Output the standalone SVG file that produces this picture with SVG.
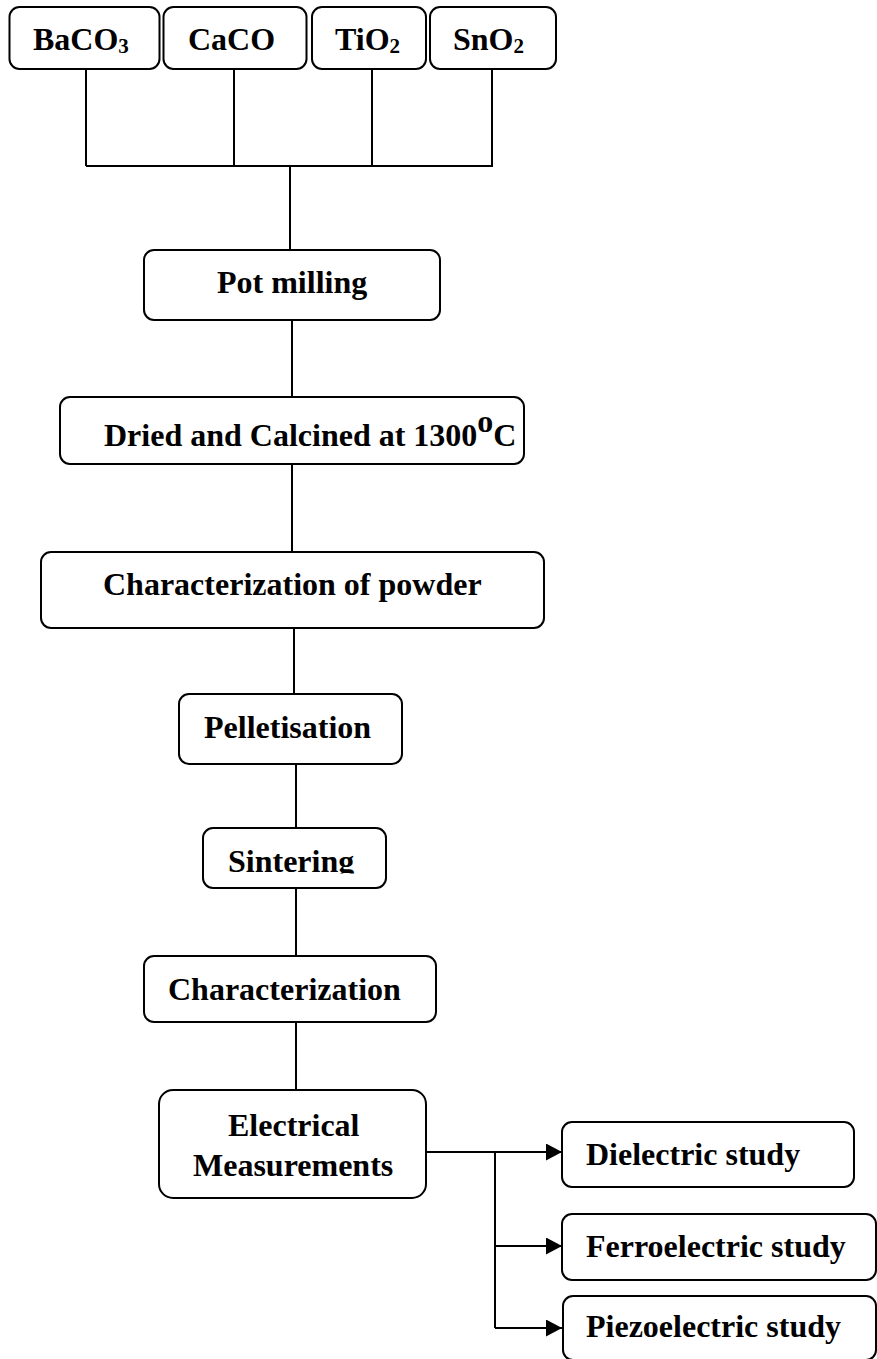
<svg xmlns="http://www.w3.org/2000/svg" width="877" height="1359" viewBox="0 0 877 1359">
<style>
.box{fill:#fff;stroke:#000;stroke-width:2}
.t{font-family:"Liberation Serif","Times New Roman",serif;font-weight:bold;font-size:32px;fill:#000}
.ln{stroke:#000;stroke-width:2;fill:none}
</style>
<defs>
<marker id="arr" viewBox="0 0 16 17" markerWidth="16" markerHeight="17" refX="16" refY="8.5" orient="auto" markerUnits="userSpaceOnUse">
<path d="M0,0 L16,8.5 L0,17 Z" fill="#000"/>
</marker>
<clipPath id="clipSint"><rect x="200" y="820" width="200" height="53.5"/></clipPath>
</defs>
<rect width="877" height="1359" fill="#fff"/>
<g id="connectors">
<path class="ln" d="M86,69 V166 M234,69 V166 M372,69 V166 M492,69 V166 M86,166 H493 M290,166 V250"/>
<path class="ln" d="M292,320 V397"/>
<path class="ln" d="M292,464 V552"/>
<path class="ln" d="M294,628 V701"/>
<path class="ln" d="M296,764 V828"/>
<path class="ln" d="M296,888 V956"/>
<path class="ln" d="M296,1022 V1090"/>
<path class="ln" d="M426,1152 H562" marker-end="url(#arr)"/>
<path class="ln" d="M495,1152 V1328"/>
<path class="ln" d="M495,1246 H562" marker-end="url(#arr)"/>
<path class="ln" d="M495,1328 H562" marker-end="url(#arr)"/>
</g>
<g id="baco3"><rect class="box" x="9.5" y="7" width="150" height="62" rx="10"/><text class="t" x="33" y="50">BaCO<tspan font-size="21" dy="3">3</tspan></text></g>
<g id="caco"><rect class="box" x="163.5" y="7" width="143" height="62" rx="10"/><text class="t" x="188" y="50">CaCO</text></g>
<g id="tio2"><rect class="box" x="312" y="7" width="114" height="62" rx="10"/><text class="t" x="335" y="50">TiO<tspan font-size="21" dy="3">2</tspan></text></g>
<g id="sno2"><rect class="box" x="430" y="7" width="126" height="62" rx="10"/><text class="t" x="453" y="50">SnO<tspan font-size="21" dy="3">2</tspan></text></g>
<g id="potmilling"><rect class="box" x="144" y="250" width="296" height="70" rx="10"/><text class="t" x="217" y="293">Pot milling</text></g>
<g id="dried"><rect class="box" x="60" y="397" width="464" height="67" rx="10"/><text class="t" x="104" y="446" font-size="29">Dried and Calcined at 1300<tspan dy="-14">o</tspan><tspan dy="14">C</tspan></text></g>
<g id="charpowder"><rect class="box" x="41" y="552" width="503" height="76" rx="10"/><text class="t" x="103" y="595">Characterization of powder</text></g>
<g id="pelletisation"><rect class="box" x="179" y="694" width="223" height="70" rx="10"/><text class="t" x="204" y="738">Pelletisation</text></g>
<g id="sintering"><rect class="box" x="203" y="828" width="183" height="60" rx="10"/><text class="t" x="228" y="872" clip-path="url(#clipSint)">Sintering</text></g>
<g id="characterization"><rect class="box" x="144" y="956" width="292" height="66" rx="10"/><text class="t" x="168" y="1000">Characterization</text></g>
<g id="electrical"><rect class="box" x="159" y="1090" width="267" height="108" rx="14"/><text class="t" x="228" y="1136">Electrical</text><text class="t" x="193" y="1176">Measurements</text></g>
<g id="dielectric"><rect class="box" x="562" y="1122" width="292" height="65" rx="10"/><text class="t" x="586" y="1165">Dielectric study</text></g>
<g id="ferroelectric"><rect class="box" x="562" y="1214" width="314" height="66" rx="10"/><text class="t" x="586" y="1257">Ferroelectric study</text></g>
<g id="piezoelectric"><rect class="box" x="563" y="1296" width="313" height="64" rx="10"/><text class="t" x="586" y="1337">Piezoelectric study</text></g>
</svg>
